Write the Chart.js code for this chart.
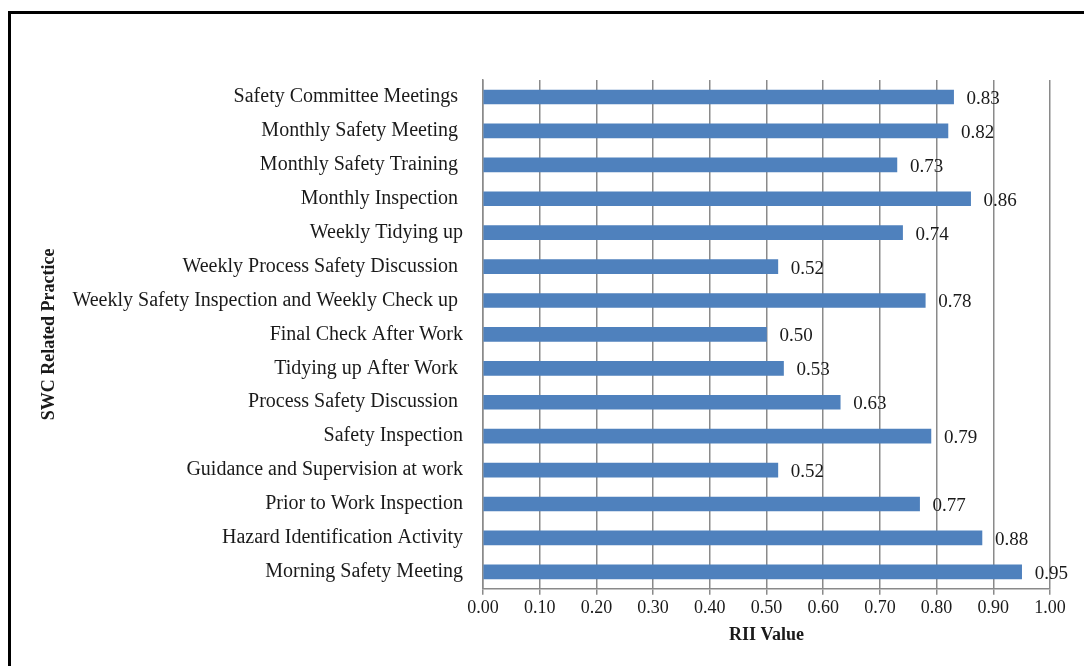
<!DOCTYPE html>
<html>
<head>
<meta charset="utf-8">
<script src="https://cdn.jsdelivr.net/npm/chart.js@4.4.0/dist/chart.umd.min.js"></script>
<style>
  body { margin: 0; background: #fff; }
  #wrap { position: relative; width: 1084px; height: 666px; }
  #frame { position: absolute; left: 8px; top: 11px; right: 0; bottom: 0;
           border-top: 3px solid #000; border-left: 3px solid #000; pointer-events: none; }
</style>
</head>
<body>
<div id="wrap">
  <canvas id="rii-chart" width="1084" height="666"></canvas>
  <div id="frame"></div>
</div>
<script>
// SWC related practices, top to bottom as in the figure
const practices = [
    'Safety Committee Meetings ',
    'Monthly Safety Meeting ',
    'Monthly Safety Training ',
    'Monthly Inspection ',
    'Weekly Tidying up',
    'Weekly Process Safety Discussion ',
    'Weekly Safety Inspection and Weekly Check up ',
    'Final Check After Work',
    'Tidying up After Work ',
    'Process Safety Discussion ',
    'Safety Inspection',
    'Guidance and Supervision at work',
    'Prior to Work Inspection',
    'Hazard Identification Activity',
    'Morning Safety Meeting'
];
const riiValues = [0.83, 0.82, 0.73, 0.86, 0.74, 0.52, 0.78, 0.50, 0.53, 0.63, 0.79, 0.52, 0.77, 0.88, 0.95];
const xTicks = [0, 0.1, 0.2, 0.3, 0.4, 0.5, 0.6, 0.7, 0.8, 0.9, 1.0];

const serif = '"Liberation Serif", "Times New Roman", serif';
const gridGray = '#8a8a8a';

// write the value just past the end of each bar
const valueLabels = {
    id: 'valueLabels',
    afterDatasetsDraw(chart) {
        const ctx = chart.ctx;
        const meta = chart.getDatasetMeta(0);
        ctx.save();
        ctx.font = '19px ' + serif;
        ctx.fillStyle = '#1a1a1a';
        ctx.textAlign = 'left';
        ctx.textBaseline = 'middle';
        meta.data.forEach((bar, i) => {
            ctx.fillText(riiValues[i].toFixed(2), bar.x + 13, bar.y + 2);
        });
        ctx.restore();
    }
};

let riiChart;

function initChart() {
    const ctx = document.getElementById('rii-chart').getContext('2d');
    riiChart = new Chart(ctx, {
        type: 'bar',
        data: {
            labels: practices,
            datasets: [{
                data: riiValues,
                backgroundColor: '#4F81BD',
                borderWidth: 0,
                barThickness: 14
            }]
        },
        options: {
            indexAxis: 'y',
            responsive: false,
            animation: false,
            layout: {
                padding: { top: 80, right: 34, bottom: 20, left: 39 }
            },
            plugins: {
                legend: { display: false },
                tooltip: { enabled: false }
            },
            scales: {
                x: {
                    min: 0,
                    max: 1,
                    afterBuildTicks: scale => {
                        scale.ticks = xTicks.map(v => ({ value: v }));
                    },
                    ticks: {
                        callback: v => Number(v).toFixed(2),
                        color: '#1a1a1a',
                        font: { family: serif, size: 18 },
                        padding: 3,
                        maxRotation: 0
                    },
                    grid: {
                        color: gridGray,
                        lineWidth: 1.5,
                        tickLength: 6
                    },
                    border: { color: gridGray, width: 1.5 },
                    title: {
                        display: true,
                        text: 'RII Value',
                        color: '#1a1a1a',
                        font: { family: serif, size: 18, weight: 'bold' },
                        padding: { top: 2, bottom: 0 }
                    }
                },
                y: {
                    afterFit: scale => { scale.width = 444; },
                    ticks: {
                        color: '#1a1a1a',
                        font: { family: serif, size: 20 },
                        padding: 12,
                        autoSkip: false
                    },
                    grid: { display: false },
                    border: { color: gridGray, width: 1.5 },
                    title: {
                        display: true,
                        text: 'SWC Related Practice',
                        color: '#1a1a1a',
                        font: { family: serif, size: 18, weight: 'bold' },
                        padding: 0
                    }
                }
            }
        },
        plugins: [valueLabels]
    });
}

initChart();
</script>
</body>
</html>
